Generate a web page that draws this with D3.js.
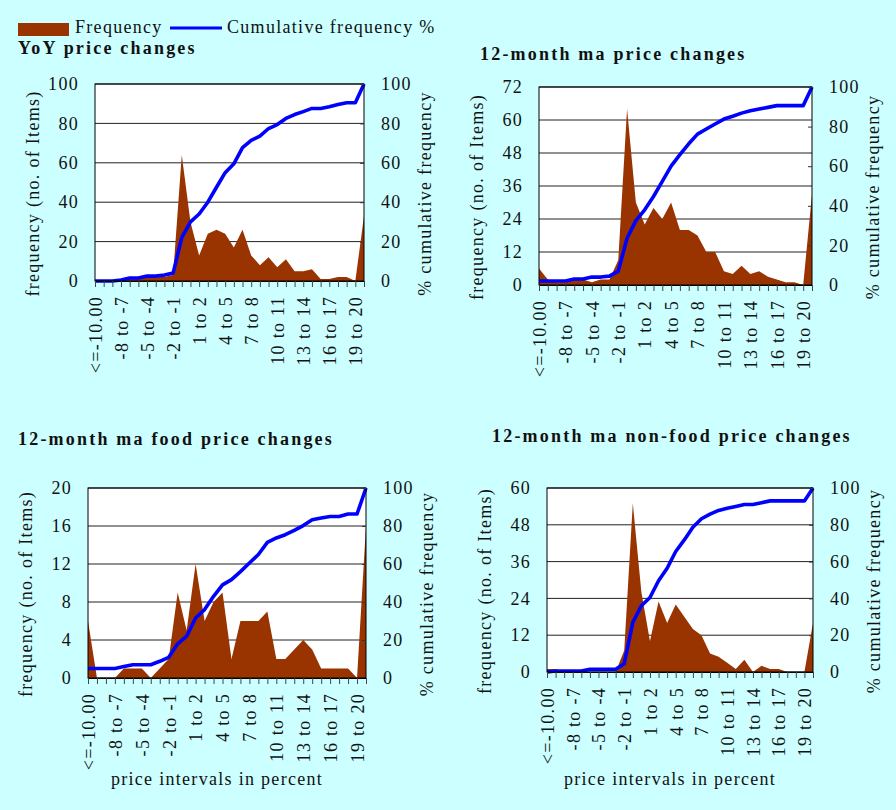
<!DOCTYPE html>
<html>
<head>
<meta charset="utf-8">
<script src="https://cdn.jsdelivr.net/npm/d3@7"></script>
<style>
  body { margin: 0; background: #ccffff; }
  svg { display: block; }
  .t { font-family: "Liberation Serif", "Times New Roman", serif; font-size: 18px; letter-spacing: 1.3px; fill: #111; }
  .title { font-family: "Liberation Serif", "Times New Roman", serif; font-size: 18px; font-weight: bold; letter-spacing: 2.2px; fill: #111; }
</style>
</head>
<body>
<script>
// price intervals (32 categories), only every third gets a label
var categories = ["<=-10.00", "-10 to -9", "-9 to -8", "-8 to -7", "-7 to -6", "-6 to -5",
  "-5 to -4", "-4 to -3", "-3 to -2", "-2 to -1", "-1 to 0", "0 to 1", "1 to 2", "2 to 3",
  "3 to 4", "4 to 5", "5 to 6", "6 to 7", "7 to 8", "8 to 9", "9 to 10", "10 to 11",
  "11 to 12", "12 to 13", "13 to 14", "14 to 15", "15 to 16", "16 to 17", "17 to 18",
  "18 to 19", "19 to 20", ">20"];
var labelledCats = ["<=-10.00", "-8 to -7", "-5 to -4", "-2 to -1", "1 to 2", "4 to 5",
  "7 to 8", "10 to 11", "13 to 14", "16 to 17", "19 to 20"];

// YoY price changes
var yoyFreq = [0, 0, 0, 0, 1, 1, 2, 2, 2, 3, 64, 30, 13, 24, 26, 24, 17, 26, 13, 8,
  12, 7, 11, 5, 5, 6, 1, 1, 2, 2, 0, 33];
var yoyCum = [0, 0, 0, 0.5, 1.5, 1.5, 2.5, 2.5, 3, 4, 22, 30, 34, 40, 47.6, 55, 59.5,
  67.7, 71.4, 73.5, 77.4, 79.4, 82.5, 84.5, 86, 87.6, 87.6, 88.4, 89.6, 90.5, 90.5, 100];
var yoyTicks = [0, 20, 40, 60, 80, 100];

// 12-month ma price changes
var maFreq = [6, 2, 1, 1, 2, 2, 1, 2, 2, 9, 64, 30, 22, 28, 24, 30, 20, 20, 18, 12,
  12, 5, 4, 7, 4, 5, 3, 2, 1, 1, 0, 33];
var maCum = [2, 2, 2, 2, 3, 3, 4, 4, 4.5, 7, 23.6, 32.5, 38, 44.7, 52.3, 60, 65.8,
  71.3, 76.2, 78.8, 81.3, 83.8, 85.2, 86.8, 88, 88.9, 89.7, 90.6, 90.6, 90.6, 90.6, 100];
var maTicks = [0, 12, 24, 36, 48, 60, 72];

// 12-month ma food price changes
var foodFreq = [6, 0, 0, 0, 1, 1, 1, 0, 1, 2, 9, 5, 12, 6, 8, 9, 2, 6, 6, 6,
  7, 2, 2, 3, 4, 3, 1, 1, 1, 1, 0, 16];
var foodCum = [5, 5, 5, 5, 6, 7, 7, 7, 8.8, 10.9, 18, 22, 31.6, 36, 43, 49, 51.8, 56,
  60.5, 65, 71.4, 73.7, 75.4, 77.7, 80.2, 83.3, 84.2, 85, 85, 86.3, 86.3, 100];
var foodTicks = [0, 4, 8, 12, 16, 20];

// 12-month ma non-food price changes
var nonFoodFreq = [1, 1, 0, 0, 0, 0, 0, 0, 0, 7, 55, 26, 10, 23, 16, 22, 18, 14, 12, 6,
  5, 3, 1, 4, 0, 2, 1, 1, 0, 0, 0, 16];
var nonFoodCum = [0, 0.5, 0.5, 0.5, 0.5, 1.5, 1.5, 1.5, 1.5, 4.5, 27, 36, 40.5, 49.6,
  56.4, 65.5, 71.8, 78.7, 83.3, 85.8, 87.8, 89, 90, 91, 91, 92, 93, 93, 93, 93, 93, 100];
var nonFoodTicks = [0, 12, 24, 36, 48, 60];

var pctTicks = [0, 20, 40, 60, 80, 100];

var panels = [
  { title: "YoY price changes", tx: 18, ty: 54, freq: yoyFreq, cum: yoyCum, ticks: yoyTicks,
    left: 95, right: 364, top: 84, bottom: 281, xTitle: false },
  { title: "12-month ma price changes", tx: 480, ty: 60, freq: maFreq, cum: maCum, ticks: maTicks,
    left: 539, right: 812, top: 87, bottom: 285, xTitle: false },
  { title: "12-month ma food price changes", tx: 18, ty: 445, freq: foodFreq, cum: foodCum, ticks: foodTicks,
    left: 88, right: 366, top: 488, bottom: 678, xTitle: true },
  { title: "12-month ma non-food price changes", tx: 492, ty: 442, freq: nonFoodFreq, cum: nonFoodCum, ticks: nonFoodTicks,
    left: 547, right: 813, top: 488, bottom: 672, xTitle: true }
];

var svg = d3.select("body").append("svg")
    .attr("width", 896)
    .attr("height", 810);

svg.append("rect").attr("width", 896).attr("height", 810).attr("fill", "#ccffff");

// legend
svg.append("rect").attr("x", 18).attr("y", 23).attr("width", 51).attr("height", 13).attr("fill", "#993300");
svg.append("text").attr("class", "t").attr("x", 75).attr("y", 33).text("Frequency");
svg.append("line").attr("x1", 170).attr("x2", 222).attr("y1", 28).attr("y2", 28)
    .attr("stroke", "#0000ff").attr("stroke-width", 3);
svg.append("text").attr("class", "t").attr("x", 227).attr("y", 33).text("Cumulative frequency %");

panels.forEach(function (p) {
    var g = svg.append("g");

    var x = d3.scalePoint().domain(categories).range([p.left, p.right]);
    var y = d3.scaleLinear().domain([0, d3.max(p.ticks)]).range([p.bottom, p.top]);
    var y2 = d3.scaleLinear().domain([0, 100]).range([p.bottom, p.top]);

    g.append("text").attr("class", "title").attr("x", p.tx).attr("y", p.ty).text(p.title);

    g.append("rect")
        .attr("x", p.left).attr("y", p.top)
        .attr("width", p.right - p.left).attr("height", p.bottom - p.top)
        .attr("fill", "#fff");

    // gridlines
    g.selectAll(".grid").data(p.ticks).enter().append("line")
        .attr("x1", p.left).attr("x2", p.right)
        .attr("y1", function (d) { return y(d); }).attr("y2", function (d) { return y(d); })
        .attr("stroke", "#222").attr("stroke-width", 1);

    var area = d3.area()
        .x(function (d, i) { return x(categories[i]); })
        .y0(p.bottom)
        .y1(function (d) { return y(d); });
    g.append("path").datum(p.freq).attr("d", area).attr("fill", "#993300");

    var line = d3.line()
        .x(function (d, i) { return x(categories[i]); })
        .y(function (d) { return y2(d); });
    g.append("path").datum(p.cum).attr("d", line)
        .attr("fill", "none").attr("stroke", "#0000ff").attr("stroke-width", 3.6)
        .attr("stroke-linejoin", "round");

    g.append("rect")
        .attr("x", p.left).attr("y", p.top)
        .attr("width", p.right - p.left).attr("height", p.bottom - p.top)
        .attr("fill", "none").attr("stroke", "#000").attr("stroke-width", 1);

    // left axis
    var la = g.append("g").attr("transform", "translate(" + p.left + ",0)")
        .call(d3.axisLeft(y).tickValues(p.ticks).tickSize(0).tickPadding(16));
    la.attr("font-family", null).attr("font-size", null);
    la.select(".domain").remove();
    la.selectAll("text").attr("class", "t");

    // right axis, short inward ticks
    var ra = g.append("g").attr("transform", "translate(" + p.right + ",0)")
        .call(d3.axisRight(y2).tickValues(pctTicks).tickSizeInner(-4).tickSizeOuter(0).tickPadding(17));
    ra.attr("font-family", null).attr("font-size", null);
    ra.select(".domain").remove();
    ra.selectAll("line").attr("stroke", "#333");
    ra.selectAll("text").attr("class", "t");

    // bottom axis: tick on every category, label every third
    var ba = g.append("g").attr("transform", "translate(0," + p.bottom + ")")
        .call(d3.axisBottom(x).tickSizeInner(6).tickSizeOuter(0)
            .tickFormat(function (d) { return labelledCats.indexOf(d) >= 0 ? d : ""; }));
    ba.attr("font-family", null).attr("font-size", null);
    ba.select(".domain").attr("stroke", "#000");
    ba.selectAll("line").attr("stroke", "#444");
    ba.selectAll("text").attr("class", "t")
        .attr("text-anchor", "end")
        .attr("transform", "rotate(-90)")
        .attr("x", -15).attr("y", 0).attr("dy", "0.35em");

    var mid = (p.top + p.bottom) / 2 + 11;
    g.append("text").attr("class", "t")
        .attr("transform", "translate(" + (p.left - 62) + "," + mid + ") rotate(-90)")
        .attr("text-anchor", "middle").attr("dy", "0.35em")
        .text("frequency (no. of Items)");
    g.append("text").attr("class", "t")
        .attr("transform", "translate(" + (p.right + 61) + "," + mid + ") rotate(-90)")
        .attr("text-anchor", "middle").attr("dy", "0.35em")
        .text("% cumulative frequency");

    if (p.xTitle) {
        g.append("text").attr("class", "t")
            .attr("x", (p.left + p.right) / 2 - 10).attr("y", 785)
            .attr("text-anchor", "middle")
            .text("price intervals in percent");
    }
});
</script>
</body>
</html>
